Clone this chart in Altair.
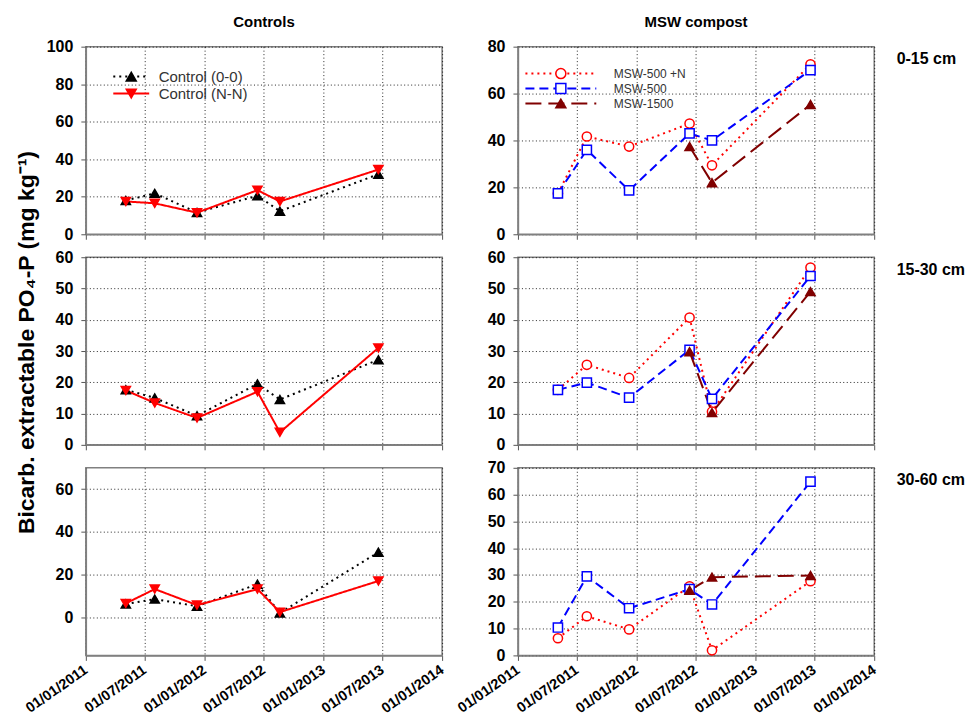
import altair as alt
import pandas as pd

# ---------------- data ----------------
dates = ["2011-05-04", "2011-08-01", "2011-12-09", "2012-06-12", "2012-08-20", "2013-06-19"]

ctrl_names = ["Control (0-0)", "Control (N-N)"]
msw_names = ["MSW-500 +N", "MSW-500", "MSW-1500"]

# Controls, 0-15 cm
c00_0_15 = [18.0, 21.8, 11.6, 20.5, 12.3, 32.0]
cNN_0_15 = [17.5, 16.5, 11.5, 23.5, 17.5, 34.5]
# Controls, 15-30 cm
c00_15_30 = [17.6, 15.0, 9.3, 19.5, 14.5, 27.2]
cNN_15_30 = [17.4, 13.4, 8.6, 17.0, 4.0, 31.0]
# Controls, 30-60 cm
c00_30_60 = [6.1, 8.4, 5.1, 15.4, 1.9, 30.4]
cNN_30_60 = [6.4, 13.1, 5.6, 13.1, 2.3, 16.9]

# MSW compost, 0-15 cm
m500N_0_15 = [17.4, 41.7, 37.4, 47.2, 29.4, 72.5]
m500_0_15 = [17.4, 36.0, 18.7, 43.0, 40.0, 70.0]
m1500_0_15 = [None, None, None, 37.4, 22.0, 55.3]
# MSW compost, 15-30 cm
m500N_15_30 = [17.6, 25.6, 21.4, 40.7, 10.6, 56.7]
m500_15_30 = [17.6, 19.9, 15.1, 30.4, 14.7, 54.0]
m1500_15_30 = [None, None, None, 29.8, 10.3, 49.0]
# MSW compost, 30-60 cm
m500N_30_60 = [6.4, 14.6, 9.7, 25.8, 1.9, 27.7]
m500_30_60 = [10.4, 29.5, 17.6, 24.7, 19.0, 64.8]
m1500_30_60 = [None, None, None, 24.3, 29.2, 29.8]

depth_labels = ["0-15 cm", "15-30 cm", "30-60 cm"]
col_titles = ["Controls", "MSW compost"]
y_title = "Bicarb. extractable PO\u2084-P (mg kg\u207b\u00b9)"

# ---------------- styles ----------------
FONT = "Liberation Sans"
ctrl_colors = ["#000000", "#ff0000"]
ctrl_dash = [[2, 4], [1, 0]]
ctrl_shapes = ["triangle-up", "triangle-down"]
ctrl_fill = ["#000000", "#ff0000"]

msw_colors = ["#ff0000", "#0000ff", "#800000"]
msw_dash = [[2, 4], [9, 5], [16, 7]]
msw_shapes = ["circle", "square", "triangle-up"]
msw_fill = ["#ffffff", "#ffffff", "#800000"]


def mk(name):
    # key used by the marker layer (kept distinct so its legend is drawn separately)
    return name + " "


def make_df(names, series_lists):
    rows = []
    for name, vals in zip(names, series_lists):
        for d, v in zip(dates, vals):
            if v is not None:
                rows.append({"date": d, "value": v, "series": name, "series_m": mk(name)})
    return pd.DataFrame(rows)


def dt(y, m):
    return alt.DateTime(year=y, month=m, date=1, utc=True)


tick_dates = [dt(2011, 1), dt(2011, 7), dt(2012, 1), dt(2012, 7), dt(2013, 1), dt(2013, 7), dt(2014, 1)]


def x_enc(show_labels):
    return alt.X(
        "date:T",
        scale=alt.Scale(type="utc", domain=[dt(2011, 1), dt(2014, 1)]),
        axis=alt.Axis(values=tick_dates, format="%d/%m/%Y", labels=show_labels, title=None,
                      labelAngle=-35, labelAlign="right", labelBaseline="middle",
                      labelOverlap=False, labelPadding=8, labelFontSize=14.5,
                      labelFontWeight="bold"),
    )


def panel(df, names, colors, dashes, shapes, fills, ydom, yvals, xlabels,
          legend_spec=None, ytitle=None, depth=None, title=None):
    X = x_enc(xlabels)
    if ytitle:
        yaxis = alt.Axis(values=yvals, title=ytitle, titlePadding=17, titleFontSize=23,
                         titleFontWeight="bold", titleFont=FONT, titleColor="black", titleY=85)
    else:
        yaxis = alt.Axis(values=yvals, title=None)
    Y = alt.Y("value:Q", scale=alt.Scale(domain=ydom, nice=False, zero=False), axis=yaxis)

    mnames = [mk(n) for n in names]
    if legend_spec:
        common = dict(orient="none", legendX=legend_spec["x"], legendY=legend_spec["y"], title=None,
                      symbolSize=100, labelFont=FONT, labelFontSize=legend_spec["fs"],
                      labelOffset=legend_spec["lo"], padding=0)
        line_leg = alt.Legend(symbolType=legend_spec["path"], symbolStrokeWidth=2,
                              labelColor="#333333", rowPadding=legend_spec["rp_line"], **common)
        mk_leg = alt.Legend(symbolStrokeWidth=1.5, labelColor="transparent", labelExpr="''",
                            rowPadding=legend_spec["rp_mk"], **common)
    else:
        line_leg = None
        mk_leg = None

    line = alt.Chart(df).mark_line(strokeWidth=2).encode(
        x=X, y=Y,
        color=alt.Color("series:N", scale=alt.Scale(domain=names, range=colors), legend=line_leg),
        strokeDash=alt.StrokeDash("series:N", scale=alt.Scale(domain=names, range=dashes), legend=line_leg),
    )
    points = alt.Chart(df).mark_point(filled=True, size=85, strokeWidth=1.5, opacity=1).encode(
        x=X, y=Y,
        shape=alt.Shape("series_m:N", scale=alt.Scale(domain=mnames, range=shapes), legend=mk_leg),
        fill=alt.Fill("series_m:N", scale=alt.Scale(domain=mnames, range=fills), legend=mk_leg),
        stroke=alt.Stroke("series_m:N", scale=alt.Scale(domain=mnames, range=colors), legend=mk_leg),
    )
    layered = alt.layer(line, points)
    if depth:
        lab = alt.Chart(df).mark_point(opacity=0).encode(
            x=X,
            y=alt.Y("value:Q", scale=alt.Scale(domain=ydom, nice=False, zero=False),
                    axis=alt.Axis(orient="right", title=depth, labels=False, ticks=False,
                                  domain=False, grid=False, titleAngle=0, titleX=22, titleY=12,
                                  titleAlign="left", titleBaseline="middle", titleFontSize=16,
                                  titleFontWeight="bold", titleFont=FONT, titleColor="black")),
        )
        layered = alt.layer(layered, lab).resolve_scale(y="independent")
    props = dict(width=357, height=188)
    if title:
        props["title"] = alt.TitleParams(text=title, fontSize=15, fontWeight="bold", font=FONT,
                                         color="black", offset=9, frame="group")
    return layered.properties(**props)


ctrl_style = (ctrl_names, ctrl_colors, ctrl_dash, ctrl_shapes, ctrl_fill)
msw_style = (msw_names, msw_colors, msw_dash, msw_shapes, msw_fill)

tl = panel(make_df(ctrl_names, [c00_0_15, cNN_0_15]), *ctrl_style,
           [0, 100], [0, 20, 40, 60, 80, 100], False,
           legend_spec=dict(x=38, y=22.5, fs=15, lo=20, rp_line=1, rp_mk=1, path="M-3.6,0L3.6,0"),
           title=col_titles[0])
tr = panel(make_df(msw_names, [m500N_0_15, m500_0_15, m1500_0_15]), *msw_style,
           [0, 80], [0, 20, 40, 60, 80], False,
           legend_spec=dict(x=37, y=21, fs=12, lo=47, rp_line=3, rp_mk=-1, path="M-7.1,0L7.1,0"),
           depth=depth_labels[0], title=col_titles[1])
ml = panel(make_df(ctrl_names, [c00_15_30, cNN_15_30]), *ctrl_style,
           [0, 60], [0, 10, 20, 30, 40, 50, 60], False, ytitle=y_title)
mr = panel(make_df(msw_names, [m500N_15_30, m500_15_30, m1500_15_30]), *msw_style,
           [0, 60], [0, 10, 20, 30, 40, 50, 60], False, depth=depth_labels[1])
bl = panel(make_df(ctrl_names, [c00_30_60, cNN_30_60]), *ctrl_style,
           [-18, 70], [0, 20, 40, 60], True)
br = panel(make_df(msw_names, [m500N_30_60, m500_30_60, m1500_30_60]), *msw_style,
           [0, 70], [0, 10, 20, 30, 40, 50, 60, 70], True, depth=depth_labels[2])

chart = alt.concat(tl, tr, ml, mr, bl, br, columns=2, spacing={"row": 23, "column": 76},
                   bounds="flush").resolve_scale(
    color="independent", strokeDash="independent", shape="independent",
    fill="independent", stroke="independent",
).properties(
    padding={"left": 6, "top": 5, "right": 5, "bottom": 5},
    background="white",
).configure(font=FONT).configure_view(
    stroke="#808080", strokeWidth=1.5
).configure_axis(
    labelFont=FONT, labelFontSize=16, labelFontWeight="bold", labelColor="black",
    labelPadding=8, tickColor="#555555", tickSize=5, tickWidth=1,
    domainColor="#808080", domainWidth=1.5,
    gridColor="#000000", gridDash=[1, 2.5], gridWidth=1, gridOpacity=0.85,
)

chart.save("out.html", embed_options={"renderer": "svg", "actions": False})
